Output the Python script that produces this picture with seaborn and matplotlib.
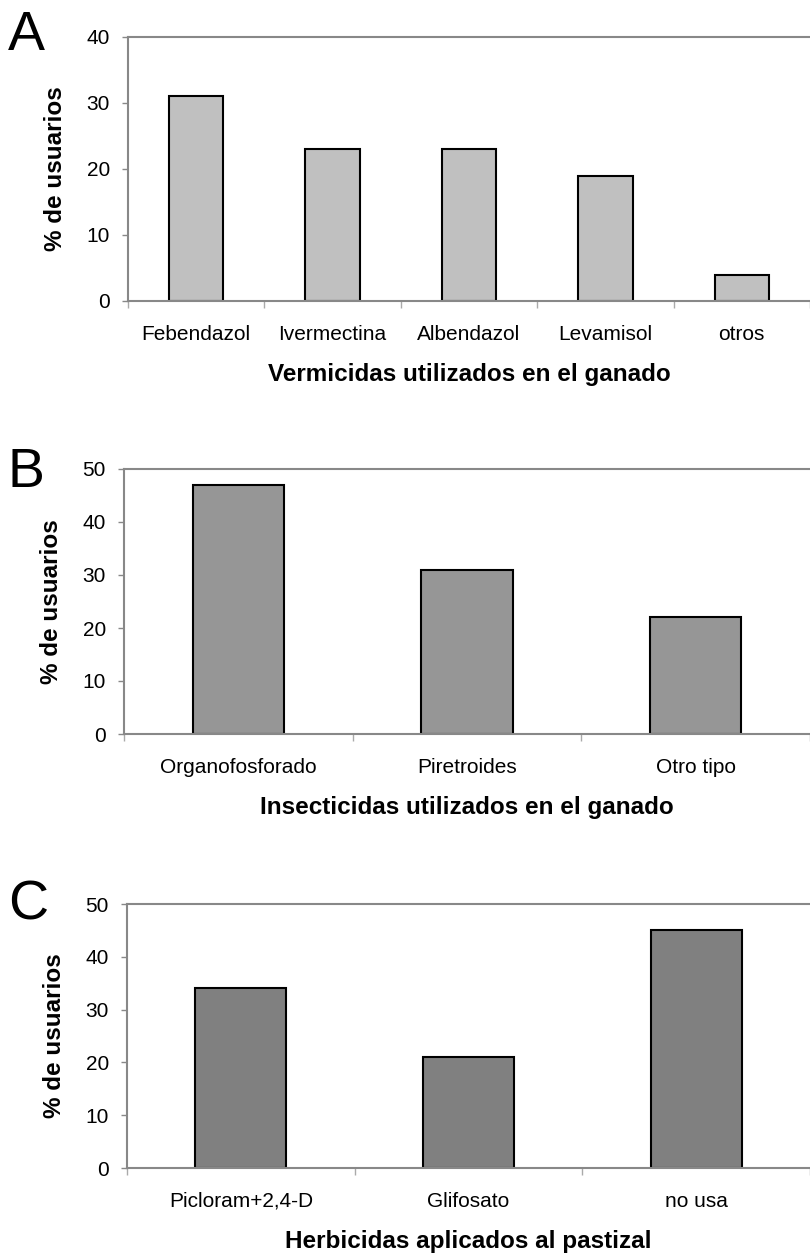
import matplotlib
matplotlib.use("Agg")
import matplotlib.pyplot as plt
import seaborn as sns
import pandas as pd
import numpy as np

# datos
vermicidas = ["Febendazol", "Ivermectina", "Albendazol", "Levamisol", "otros"]
vermicidas_pct = [31, 23, 23, 19, 4]

insecticidas = ["Organofosforado", "Piretroides", "Otro tipo"]
insecticidas_pct = [47, 31, 22]

herbicidas = ["Picloram+2,4-D", "Glifosato", "no usa"]
herbicidas_pct = [34, 21, 45]

sns.set_theme(style="white")
plt.rcParams['font.family'] = ['Liberation Sans', 'DejaVu Sans']
plt.rcParams['text.color'] = 'black'
plt.rcParams['axes.labelcolor'] = 'black'
plt.rcParams['xtick.labelcolor'] = 'black'
plt.rcParams['ytick.labelcolor'] = 'black'

fig = plt.figure(figsize=(8.1, 12.58), dpi=100)

paneles = [
    ("A", vermicidas, vermicidas_pct, "Vermicidas utilizados en el ganado", "#c0c0c0", 40,
     [128 / 810, 1 - 301 / 1258, 1 - 128 / 810, 264 / 1258], 50),
    ("B", insecticidas, insecticidas_pct, "Insecticidas utilizados en el ganado", "#969696", 50,
     [124 / 810, 1 - 734 / 1258, 1 - 124 / 810, 265 / 1258], 487),
    ("C", herbicidas, herbicidas_pct, "Herbicidas aplicados al pastizal", "#808080", 50,
     [127 / 810, 1 - 1168 / 1258, 1 - 127 / 810, 264 / 1258], 920),
]

for letra, cats, vals, xlab, col, ymax, rect, y_letra in paneles:
    ax = fig.add_axes(rect)
    df = pd.DataFrame({"cat": cats, "pct": vals})
    sns.barplot(data=df, x="cat", y="pct", ax=ax, color=col, width=0.4,
                edgecolor="black", linewidth=1.5, saturation=1)
    ax.set_ylim(0, ymax)
    ax.set_xlim(-0.5, len(cats) - 0.5)
    ax.set_yticks(np.arange(0, ymax + 1, 10))
    ax.set_ylabel("% de usuarios", fontsize=17.5, fontweight="bold", labelpad=14)
    ax.set_xlabel(xlab, fontsize=17.5, fontweight="bold", labelpad=14)

    # marcas del eje x entre categorias (estilo Excel)
    ax.set_xticks(np.arange(len(cats) + 1) - 0.5, minor=True)
    ax.tick_params(axis="x", which="major", length=0, pad=17, labelsize=15)
    ax.tick_params(axis="x", which="minor", length=5, width=1, color="#aaaaaa", direction="out", bottom=True)
    ax.tick_params(axis="y", which="major", length=4, width=1, color="#888888", direction="out",
                   left=True, pad=9, labelsize=15)

    for s in ["left", "bottom", "top"]:
        ax.spines[s].set_visible(True)
        ax.spines[s].set_color("#888888")
        ax.spines[s].set_linewidth(1.5)
    ax.spines["right"].set_visible(False)

    fig.text(8 / 810, 1 - y_letra / 1258, letra, fontsize=40, va="baseline", ha="left")

fig.savefig("out.png", dpi=100)
